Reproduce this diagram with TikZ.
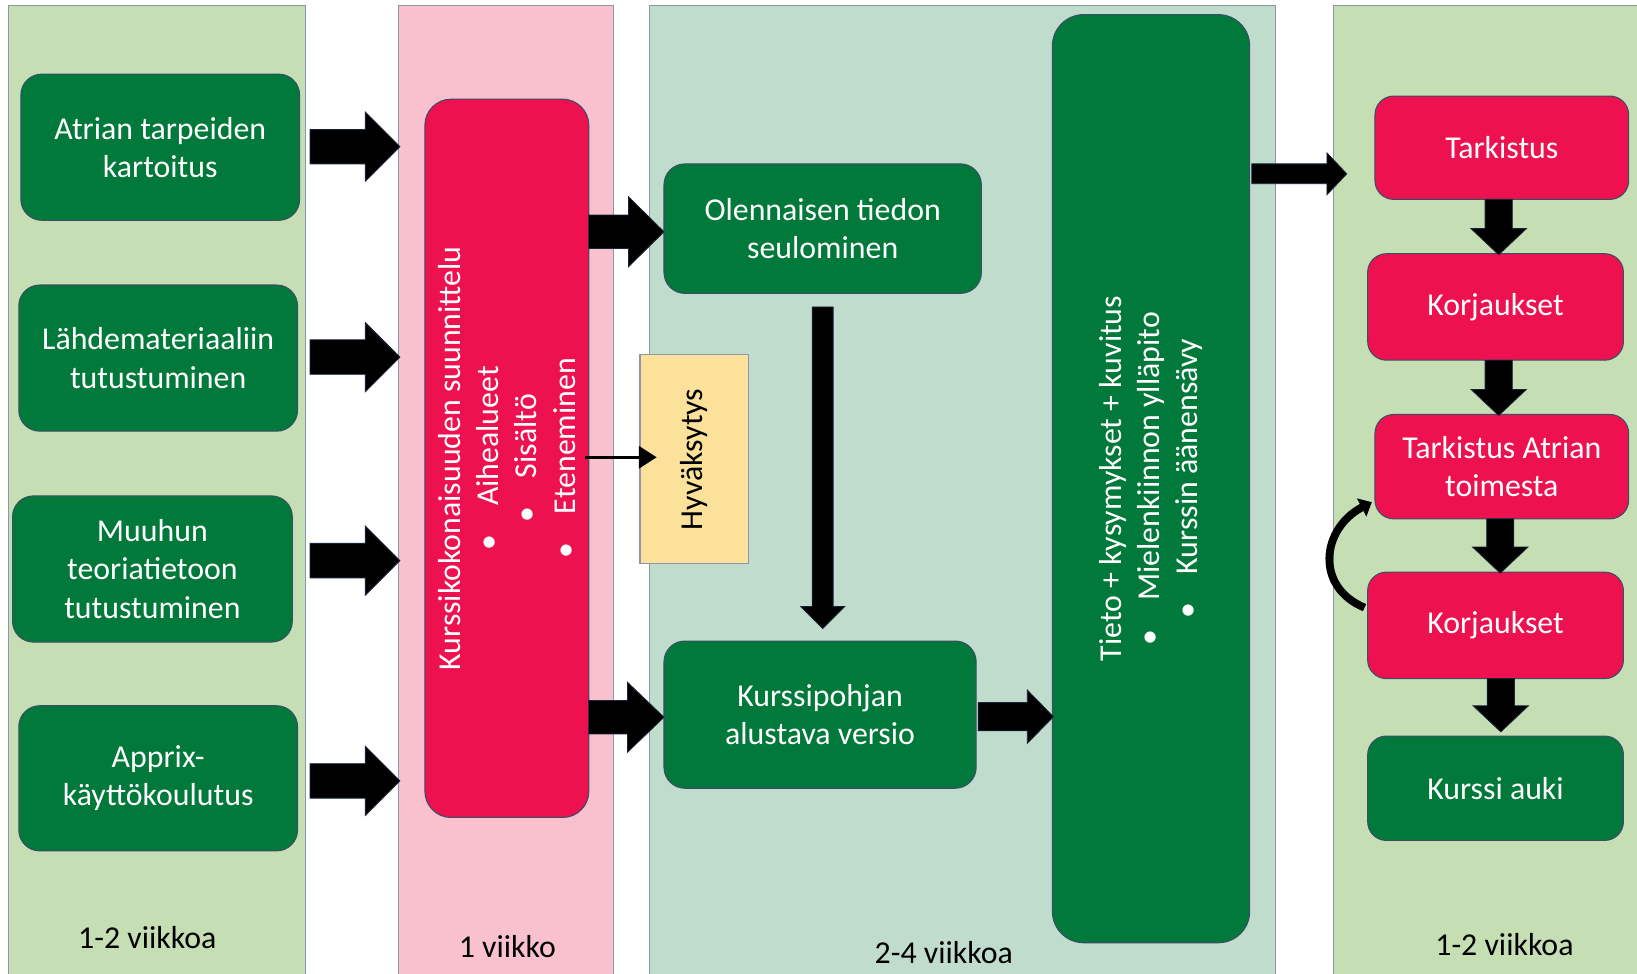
\documentclass[tikz,border=0pt]{standalone}
\usepackage{fontspec}
\setmainfont{Carlito}
\usetikzlibrary{calc,arrows.meta}
\definecolor{pgreen}{HTML}{C5DEB4}
\definecolor{ppink}{HTML}{F9C0CE}
\definecolor{pteal}{HTML}{C0DCCD}
\definecolor{bgreen}{HTML}{00793A}
\definecolor{bred}{HTML}{EE1150}
\definecolor{byellow}{HTML}{FBE19A}
\definecolor{panelline}{HTML}{8C97A8}
\definecolor{boxline}{HTML}{3A4E66}
\definecolor{arrline}{HTML}{1A2438}
\newcommand\harr[5]{%
  \filldraw[blk] let \p1=#1, \p2=#2 in
  (\x1,\y2+#3) -- (\x2-#5,\y2+#3) -- (\x2-#5,\y2+#4) -- (\x2,\y2) --
  (\x2-#5,\y2-#4) -- (\x2-#5,\y2-#3) -- (\x1,\y2-#3) -- cycle;}
\newcommand\varr[5]{%
  \filldraw[blk] let \p1=#1, \p2=#2 in
  (\x2-#3,\y1) -- (\x2-#3,\y2+#5) -- (\x2-#4,\y2+#5) -- (\x2,\y2) --
  (\x2+#4,\y2+#5) -- (\x2+#3,\y2+#5) -- (\x2+#3,\y1) -- cycle;}
\tikzset{
  panel/.style={draw=panelline, line width=1pt, inner sep=0pt, outer sep=0pt},
  box/.style={draw=boxline, line width=1pt, rounded corners=20pt, inner sep=0pt,
    outer sep=0pt, text=white, align=center, font=\fontsize{30.5}{36.6}\selectfont},
  gbox/.style={box, fill=bgreen},
  rbox/.style={box, fill=bred, rounded corners=18pt},
  ybox/.style={draw=panelline, line width=1pt, fill=byellow, inner sep=0pt, outer sep=0pt},
  vtext/.style={rotate=90, align=center, font=\fontsize{30.5}{36.6}\selectfont},
  lbl/.style={font=\fontsize{30.5}{36.6}\selectfont, text=black},
  blk/.style={fill=black, draw=arrline, line width=0.8pt},
  thinarr/.style={draw=black, line width=3pt, -{Triangle[length=17pt,width=21pt]}},
  curvarr/.style={draw=black, line width=7.5pt, -{Triangle[length=11pt,width=19pt]}},
}
\begin{document}
\begin{tikzpicture}[x=1pt,y=-1pt]
\path[use as bounding box, clip] (0,0) rectangle (1568,932);
\fill[white] (0,0) rectangle (1568,932);
% panels
\node[panel, fill=pgreen, minimum width=285pt, minimum height=945pt] (pan1) at (150.5,477.5) {};
\node[panel, fill=ppink,  minimum width=206pt, minimum height=945pt] (pan2) at (485,477.5) {};
\node[panel, fill=pteal,  minimum width=600pt, minimum height=945pt] (pan3) at (922,477.5) {};
\node[panel, fill=pgreen, minimum width=323pt, minimum height=945pt] (pan4) at (1438.5,477.5) {};
% left column
\node[gbox, minimum width=267pt, minimum height=140pt] (a1) at (153.5,141) {Atrian tarpeiden\\kartoitus};
\node[gbox, minimum width=267pt, minimum height=140pt] (a2) at (151.5,343) {Lähdemateriaaliin\\tutustuminen};
\node[gbox, minimum width=268pt, minimum height=140pt] (a3) at (146,545) {Muuhun\\teoriatietoon\\tutustuminen};
\node[gbox, minimum width=267pt, minimum height=139pt] (a4) at (151.5,745.5) {Apprix-\\käyttökoulutus};
% planning
\node[rbox, rounded corners=25pt, minimum width=157pt, minimum height=688pt] (r1) at (485.5,439) {};
\node[vtext, text=white] (r1t) at (r1.center) {Kurssikokonaisuuden suunnittelu\\
  •\hspace{0.9em}Aihealueet\\ •\hspace{0.9em}Sisältö\\ •\hspace{0.9em}Eteneminen};
\node[ybox, minimum width=104pt, minimum height=200pt] (hy) at (665,440) {};
\node[vtext, text=black] (hyt) at (hy.center) {Hyväksytys};
% middle
\node[gbox, minimum width=304pt, minimum height=124pt] (o1) at (788,219) {Olennaisen tiedon\\seulominen};
\node[gbox, minimum width=299pt, minimum height=141pt] (k1) at (785.5,684.5) {Kurssipohjan\\alustava versio};
\node[gbox, rounded corners=30pt, minimum width=189pt, minimum height=889pt] (big) at (1102.5,458.5) {};
\node[vtext, text=white] (bigt) at (big.center) {Tieto + kysymykset + kuvitus\\
  •\hspace{0.9em}Mielenkiinnon ylläpito\\ •\hspace{0.9em}Kurssin äänensävy};
% right column
\node[rbox, minimum width=243pt, minimum height=99pt] (t1) at (1438.5,141.5) {Tarkistus};
\node[rbox, minimum width=245pt, minimum height=102pt] (kj1) at (1432.5,294) {Korjaukset};
\node[rbox, minimum width=243pt, minimum height=100pt] (t2) at (1438.5,447) {Tarkistus Atrian\\toimesta};
\node[rbox, minimum width=245pt, minimum height=102pt] (kj2) at (1432.5,599) {Korjaukset};
\node[gbox, rounded corners=18pt, minimum width=245pt, minimum height=100pt] (ka) at (1432.5,755) {Kurssi auki};
% labels
\node[lbl] (l1) at (141,898) {1-2 viikkoa};
\node[lbl] (l2) at (486,907) {1 viikko};
\node[lbl] (l3) at (904,912) {2-4 viikkoa};
\node[lbl] (l4) at (1441,905) {1-2 viikkoa};
% block arrows
\harr{($(pan1.east)+(4,0)$)}{($(pan2.west |- a1)+(1,-0.5)$)}{16.5}{33}{33}
\harr{($(pan1.east)+(4,0)$)}{($(pan2.west |- a2)+(1,-1)$)}{16.5}{33}{33}
\harr{($(pan1.east)+(4,0)$)}{($(pan2.west |- a3)+(1,-8)$)}{16.5}{33}{33}
\harr{($(pan1.east)+(4,0)$)}{($(pan2.west |- a4)+(1,2.5)$)}{16.5}{33}{33}
\harr{(r1.east)}{($(o1.west)+(0,3)$)}{16}{33.5}{34}
\harr{(r1.east)}{($(k1.west)+(0,2.5)$)}{16}{33.5}{35}
\harr{($(k1.east)+(2,0)$)}{($(big.west |- k1)+(1,2)$)}{13.5}{25.5}{25}
\harr{($(big.east)+(2,0)$)}{($(t1.west)+(-27,25)$)}{9.5}{20}{19}
\varr{($(o1.south)+(0,13)$)}{($(k1.north)+(2.5,-12)$)}{10}{21}{21}
\varr{(t1.south)}{($(kj1.north)+(3,1)$)}{13}{26.5}{25}
\varr{(kj1.south)}{($(t2.north)+(-3,1)$)}{13}{26.5}{25}
\varr{(t2.south)}{($(kj2.north)+(4.5,1)$)}{13}{26.5}{25}
\varr{(kj2.south)}{($(ka.north)+(5,-4)$)}{13}{26.5}{25}
% thin arrow and loop
\draw[thinarr] (r1.east |- hy) ++(-4,-2) -- ($(hy.west)+(16,-2)$);
\draw[curvarr] ($(kj2.west)+(-3,-17)$) .. controls +(-48,-20) and +(-48,25) .. ($(t2.west)+(-3,34)$);
\end{tikzpicture}
\end{document}
